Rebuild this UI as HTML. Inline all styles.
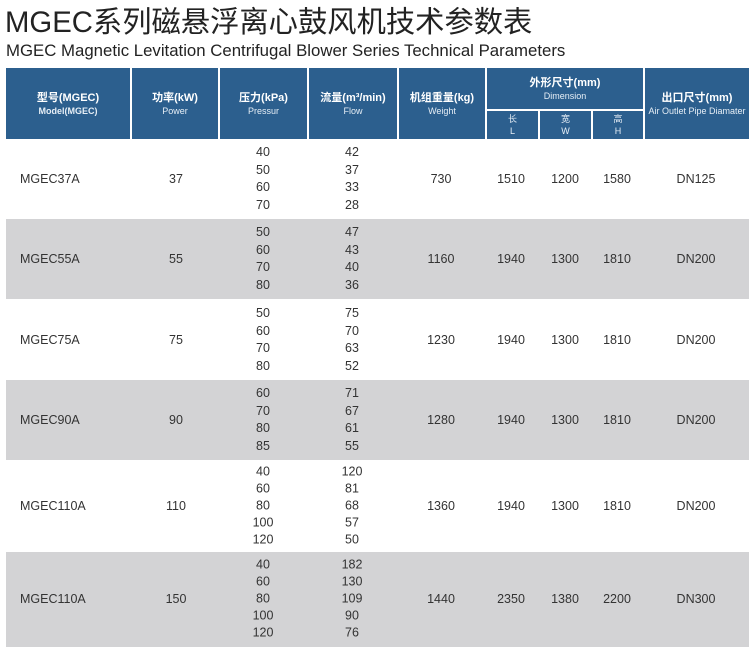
<!DOCTYPE html>
<html><head><meta charset="utf-8"><style>
body{margin:0;width:756px;height:647px;background:#fff;position:relative;overflow:hidden;font-family:"Liberation Sans","Noto Sans CJK SC",sans-serif;color:#333}
.a{position:absolute}
.h{position:absolute;background:#2c5f8e;color:#fff;display:flex;flex-direction:column;align-items:center;justify-content:center;text-align:center}
.h b{font-size:11px;font-weight:bold;line-height:14px}
.h i{font-style:normal;font-size:9px;line-height:12px;color:#e6eef6}
.g{position:absolute;left:6px;width:743px;background:#d3d3d5}
.c{position:absolute;font-size:12.5px;text-align:center;transform:translate(-50%,-50%);white-space:nowrap}
.l{position:absolute;font-size:12.5px;left:20px;transform:translateY(-50%)}
.v{position:absolute;font-size:12.5px;line-height:17.5px;text-align:center;width:60px;transform:translate(-50%,-50%)}
</style></head><body>
<div class="a" style="left:5px;top:-1px;font-size:29.3px;color:#222;white-space:nowrap">MGEC系列磁悬浮离心鼓风机技术参数表</div>
<div class="a" style="left:6px;top:41px;font-size:16.8px;color:#222;white-space:nowrap">MGEC Magnetic Levitation Centrifugal Blower Series Technical Parameters</div>

<div class="h" style="left:6px;top:68px;width:124px;height:71px"><b>型号(MGEC)</b><i style="font-weight:bold">Model(MGEC)</i></div>
<div class="h" style="left:132px;top:68px;width:86px;height:71px"><b>功率(kW)</b><i>Power</i></div>
<div class="h" style="left:220px;top:68px;width:87px;height:71px"><b>压力(kPa)</b><i>Pressur</i></div>
<div class="h" style="left:309px;top:68px;width:88px;height:71px"><b>流量(m³/min)</b><i>Flow</i></div>
<div class="h" style="left:399px;top:68px;width:86px;height:71px"><b>机组重量(kg)</b><i>Weight</i></div>
<div class="h" style="left:487px;top:68px;width:156px;height:41px"><b>外形尺寸(mm)</b><i>Dimension</i></div>
<div class="h" style="left:487px;top:111px;width:51px;height:28px"><i>长</i><i>L</i></div>
<div class="h" style="left:540px;top:111px;width:51px;height:28px"><i>宽</i><i>W</i></div>
<div class="h" style="left:593px;top:111px;width:50px;height:28px"><i>高</i><i>H</i></div>
<div class="h" style="left:645px;top:68px;width:104px;height:71px"><b>出口尺寸(mm)</b><i>Air Outlet Pipe Diamater</i></div>

<div class="g" style="top:219px;height:80px"></div>
<div class="g" style="top:380px;height:80px"></div>
<div class="g" style="top:552px;height:95px"></div>

<div class="l" style="top:179px">MGEC37A</div><div class="c" style="left:176px;top:179px">37</div>
<div class="v" style="left:263px;top:179px">40<br>50<br>60<br>70</div><div class="v" style="left:352px;top:179px">42<br>37<br>33<br>28</div>
<div class="c" style="left:441px;top:179px">730</div><div class="c" style="left:511px;top:179px">1510</div><div class="c" style="left:565px;top:179px">1200</div><div class="c" style="left:617px;top:179px">1580</div><div class="c" style="left:696px;top:179px">DN125</div>

<div class="l" style="top:259px">MGEC55A</div><div class="c" style="left:176px;top:259px">55</div>
<div class="v" style="left:263px;top:259px">50<br>60<br>70<br>80</div><div class="v" style="left:352px;top:259px">47<br>43<br>40<br>36</div>
<div class="c" style="left:441px;top:259px">1160</div><div class="c" style="left:511px;top:259px">1940</div><div class="c" style="left:565px;top:259px">1300</div><div class="c" style="left:617px;top:259px">1810</div><div class="c" style="left:696px;top:259px">DN200</div>

<div class="l" style="top:340px">MGEC75A</div><div class="c" style="left:176px;top:340px">75</div>
<div class="v" style="left:263px;top:340px">50<br>60<br>70<br>80</div><div class="v" style="left:352px;top:340px">75<br>70<br>63<br>52</div>
<div class="c" style="left:441px;top:340px">1230</div><div class="c" style="left:511px;top:340px">1940</div><div class="c" style="left:565px;top:340px">1300</div><div class="c" style="left:617px;top:340px">1810</div><div class="c" style="left:696px;top:340px">DN200</div>

<div class="l" style="top:420px">MGEC90A</div><div class="c" style="left:176px;top:420px">90</div>
<div class="v" style="left:263px;top:420px">60<br>70<br>80<br>85</div><div class="v" style="left:352px;top:420px">71<br>67<br>61<br>55</div>
<div class="c" style="left:441px;top:420px">1280</div><div class="c" style="left:511px;top:420px">1940</div><div class="c" style="left:565px;top:420px">1300</div><div class="c" style="left:617px;top:420px">1810</div><div class="c" style="left:696px;top:420px">DN200</div>

<div class="l" style="top:506px">MGEC110A</div><div class="c" style="left:176px;top:506px">110</div>
<div class="v" style="left:263px;top:506px;line-height:17px">40<br>60<br>80<br>100<br>120</div><div class="v" style="left:352px;top:506px;line-height:17px">120<br>81<br>68<br>57<br>50</div>
<div class="c" style="left:441px;top:506px">1360</div><div class="c" style="left:511px;top:506px">1940</div><div class="c" style="left:565px;top:506px">1300</div><div class="c" style="left:617px;top:506px">1810</div><div class="c" style="left:696px;top:506px">DN200</div>

<div class="l" style="top:599px">MGEC110A</div><div class="c" style="left:176px;top:599px">150</div>
<div class="v" style="left:263px;top:599px;line-height:17px">40<br>60<br>80<br>100<br>120</div><div class="v" style="left:352px;top:599px;line-height:17px">182<br>130<br>109<br>90<br>76</div>
<div class="c" style="left:441px;top:599px">1440</div><div class="c" style="left:511px;top:599px">2350</div><div class="c" style="left:565px;top:599px">1380</div><div class="c" style="left:617px;top:599px">2200</div><div class="c" style="left:696px;top:599px">DN300</div>
</body></html>
